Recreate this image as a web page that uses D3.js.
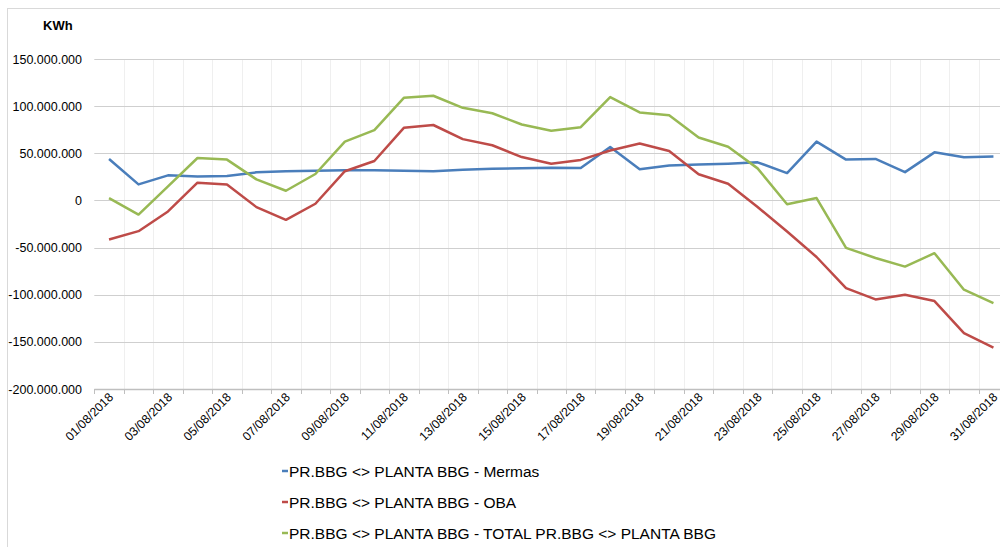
<!DOCTYPE html>
<html>
<head>
<meta charset="utf-8">
<script src="https://cdn.jsdelivr.net/npm/d3@7"></script>
<style>
  body { margin: 0; background: #fff; }
  svg text { font-family: "Liberation Sans", Arial, sans-serif; fill: #000; }
</style>
</head>
<body>
<script>
// data (values in kWh)
let days = d3.range(1, 32).map(d => (d < 10 ? "0" + d : "" + d) + "/08/2018");

let mermas = [44, 17, 26.6, 25.5, 26, 29.8, 31, 31.5, 32, 32, 31.5, 31, 32.6, 33.7, 34,
  34.7, 34.4, 56.7, 33, 37, 38, 39, 40.4, 29, 62.4, 43.3, 44, 30, 51, 45.7, 46.5].map(v => v * 1e6);

let oba = [-41.5, -32.6, -11.7, 18.8, 17, -7.1, -20.6, -3.5, 31, 41.8, 77, 80, 65, 58.5, 46,
  39, 43, 53, 60.3, 52.5, 27.7, 17.7, -7, -33, -60, -93, -105, -100, -106.7, -140.7, -156].map(v => v * 1e6);

let total = [2.5, -15, 15, 45, 43.3, 22.3, 10.3, 28, 62.4, 74.5, 108.8, 111, 98.2, 92.5, 80.5,
  74, 77.7, 109.6, 93.3, 90.4, 66.7, 57, 34, -4, 2.5, -50.3, -61, -70.2, -56, -94.7, -109].map(v => v * 1e6);

let yTicks = [150e6, 100e6, 50e6, 0, -50e6, -100e6, -150e6, -200e6];

let seriesNames = [
  "PR.BBG <> PLANTA BBG - Mermas",
  "PR.BBG <> PLANTA BBG - OBA",
  "PR.BBG <> PLANTA BBG - TOTAL PR.BBG <> PLANTA BBG"
];
let seriesColors = ["#4a7ebb", "#be4b48", "#98b954"];
let series = [mermas, oba, total];

let svg = null, x = null, y = null;
let plot = {left: 94.3, right: 94.3 + 31 * 29.48, top: 59, bottom: 389};

setupSvg();
setupScales();
appendGrid();
appendAxes();
appendLines();
appendLegend();

function setupSvg() {
  svg = d3.select("body").append("svg")
    .attr("width", 1000)
    .attr("height", 547);

  // outer chart border
  svg.append("rect")
    .attr("x", 7.5).attr("y", 8.5)
    .attr("width", 1000).attr("height", 545)
    .attr("fill", "none")
    .attr("stroke", "#d9d9d9");

  svg.append("text")
    .attr("x", 43).attr("y", 30)
    .style("font-size", "13px")
    .style("font-weight", "bold")
    .text("KWh");
}

function setupScales() {
  x = d3.scaleBand().domain(days).range([plot.left, plot.right]).padding(0);
  y = d3.scaleLinear().domain([-200e6, 150e6]).range([plot.bottom, plot.top]);
}

function fmt(v) {
  let s = d3.format(",")(v).replace(/,/g, ".");
  return s.replace("−", "-");
}

function appendGrid() {
  // light vertical grid at category boundaries
  svg.append("g").selectAll("line")
    .data(days.slice(1))
    .enter().append("line")
    .attr("x1", d => Math.round(x(d)) + 0.5)
    .attr("x2", d => Math.round(x(d)) + 0.5)
    .attr("y1", plot.top).attr("y2", plot.bottom)
    .attr("stroke", "#efefef");

  svg.append("g").selectAll("line")
    .data(yTicks.slice(0, -1))
    .enter().append("line")
    .attr("x1", plot.left).attr("x2", plot.right)
    .attr("y1", d => Math.round(y(d)) + 0.5)
    .attr("y2", d => Math.round(y(d)) + 0.5)
    .attr("stroke", "#cfcfcf")
    .attr("stroke-width", 1.2);
}

function appendAxes() {
  // y labels
  svg.append("g").selectAll("text")
    .data(yTicks)
    .enter().append("text")
    .attr("x", 82)
    .attr("y", d => y(d) + 4.5)
    .attr("text-anchor", "end")
    .style("font-size", "12.5px")
    .text(d => fmt(d));

  // x axis line + ticks
  let xa = svg.append("g");
  xa.append("line")
    .attr("x1", plot.left).attr("x2", plot.right)
    .attr("y1", plot.bottom + 0.5).attr("y2", plot.bottom + 0.5)
    .attr("stroke", "#bfbfbf").attr("stroke-width", 1.3);
  xa.selectAll(".tk")
    .data(days)
    .enter().append("line")
    .attr("x1", d => Math.round(x(d)) + 0.5)
    .attr("x2", d => Math.round(x(d)) + 0.5)
    .attr("y1", plot.bottom).attr("y2", plot.bottom + 5)
    .attr("stroke", "#bfbfbf");

  xa.selectAll("text")
    .data(days.filter((d, i) => i % 2 === 0))
    .enter().append("text")
    .attr("text-anchor", "end")
    .attr("transform", d => `translate(${x(d) + x.bandwidth() / 2 + 5}, ${plot.bottom + 9}) rotate(-45)`)
    .style("font-size", "12.3px")
    .text(d => d);
}

function appendLines() {
  let line = d3.line()
    .x((d, i) => x(days[i]) + x.bandwidth() / 2)
    .y(d => y(d));

  svg.append("g").selectAll("path")
    .data(series)
    .enter().append("path")
    .attr("d", line)
    .attr("fill", "none")
    .attr("stroke", (d, i) => seriesColors[i])
    .attr("stroke-width", 2.5)
    .attr("stroke-linejoin", "round");
}

function appendLegend() {
  let lg = svg.append("g").selectAll("g")
    .data(seriesNames)
    .enter().append("g")
    .attr("transform", (d, i) => `translate(282, ${471 + i * 31})`);

  lg.append("line")
    .attr("x1", 0).attr("x2", 6)
    .attr("y1", 0).attr("y2", 0)
    .attr("stroke", (d, i) => seriesColors[i])
    .attr("stroke-width", 2.5);

  lg.append("text")
    .attr("x", 7).attr("y", 5.5)
    .style("font-size", "15.5px")
    .text(d => d);
}
</script>
</body>
</html>
